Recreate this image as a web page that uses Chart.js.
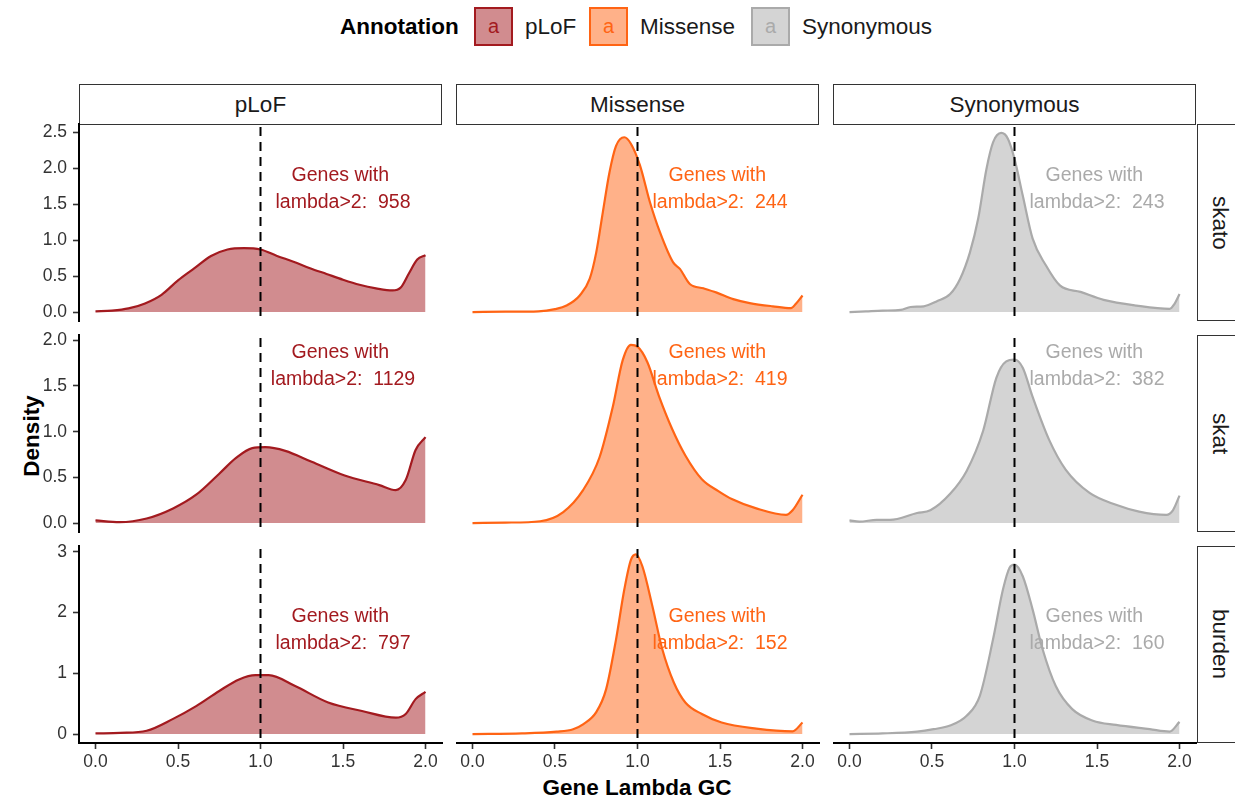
<!DOCTYPE html>
<html><head><meta charset="utf-8">
<script src="https://cdn.jsdelivr.net/npm/chart.js@4.4.1/dist/chart.umd.min.js"></script>
<style>
html,body{margin:0;padding:0;background:#fff;width:1235px;height:801px;overflow:hidden;font-family:"Liberation Sans",Arial,Helvetica,sans-serif;}
#root{position:relative;width:1235px;height:801px;overflow:hidden;}
.strip{position:absolute;box-sizing:border-box;border:1px solid #333;background:#fff;display:flex;align-items:center;justify-content:center;font-size:22.5px;color:#1a1a1a;}
.strip.v span{writing-mode:vertical-rl;}
canvas{position:absolute;}
.abs{position:absolute;white-space:nowrap;}
.key{position:absolute;box-sizing:border-box;border:2px solid;display:flex;align-items:center;justify-content:center;font-size:20px;}
</style>
</head><body><div id="root"></div>
<script>
// ---------- data ----------
const annotations = ['pLoF', 'Missense', 'Synonymous'];
const tests = ['skato', 'skat', 'burden'];
const lineColors = ['#A31A1F', '#FF6414', '#AAAAAA'];
const fillColors = ['rgba(163,26,31,0.5)', 'rgba(255,100,20,0.5)', 'rgba(170,170,170,0.5)'];

const countsSkato  = [958, 244, 243];
const countsSkat   = [1129, 419, 382];
const countsBurden = [797, 152, 160];

const xTickValues = [0, 0.5, 1, 1.5, 2];
const xTickLabels = ['0.0', '0.5', '1.0', '1.5', '2.0'];
const yTicksSkato  = ['0.0', '0.5', '1.0', '1.5', '2.0', '2.5'];
const yTicksSkat   = ['0.0', '0.5', '1.0', '1.5', '2.0'];
const yTicksBurden = ['0', '1', '2', '3'];
const rowMaxDensity = [2.49, 1.96, 2.95];

// pLoF
const pLoF_skato_x = [0,0.1,0.2,0.3,0.4,0.5,0.6,0.7,0.8,0.9,1.0,1.1,1.2,1.3,1.4,1.5,1.6,1.7,1.8,1.85,1.9,1.95,2.0];
const pLoF_skato_y = [0.01,0.02,0.05,0.12,0.24,0.44,0.61,0.78,0.87,0.89,0.87,0.78,0.70,0.61,0.53,0.45,0.38,0.33,0.30,0.34,0.54,0.73,0.79];
const pLoF_skat_x = [0,0.145,0.31,0.47,0.61,0.75,0.85,0.95,1.03,1.15,1.31,1.51,1.72,1.82,1.88,1.94,2.0];
const pLoF_skat_y = [0.03,0.01,0.05,0.16,0.31,0.54,0.71,0.82,0.83,0.79,0.67,0.52,0.415,0.36,0.47,0.80,0.94];
const pLoF_burden_x = [0,0.15,0.31,0.47,0.61,0.75,0.87,0.97,1.05,1.21,1.41,1.615,1.82,1.88,1.94,2.0];
const pLoF_burden_y = [0.01,0.02,0.055,0.25,0.46,0.71,0.90,0.97,0.97,0.79,0.52,0.38,0.27,0.33,0.575,0.695];
// Missense
const missense_skato_x = [0,0.2,0.4,0.5,0.57,0.65,0.71,0.75,0.79,0.83,0.87,0.92,0.96,1.015,1.075,1.136,1.216,1.257,1.317,1.40,1.48,1.58,1.68,1.82,1.93,1.96,2.0];
const missense_skato_y = [0,0.005,0.01,0.04,0.09,0.23,0.46,0.83,1.39,1.94,2.31,2.43,2.34,2.04,1.53,1.11,0.69,0.60,0.39,0.33,0.27,0.18,0.125,0.08,0.055,0.115,0.23];
const missense_skat_x = [0,0.2,0.41,0.55,0.67,0.77,0.85,0.91,0.96,1.0,1.06,1.13,1.21,1.29,1.39,1.49,1.575,1.72,1.90,1.94,2.0];
const missense_skat_y = [0,0.005,0.02,0.12,0.36,0.72,1.27,1.78,1.95,1.93,1.76,1.39,1.03,0.74,0.48,0.35,0.26,0.16,0.09,0.14,0.31];
const missense_burden_x = [0,0.3,0.51,0.61,0.67,0.75,0.81,0.87,0.92,0.96,0.99,1.03,1.09,1.15,1.22,1.29,1.39,1.51,1.72,1.94,2.0];
const missense_burden_y = [0,0.01,0.04,0.08,0.16,0.36,0.74,1.56,2.38,2.87,2.96,2.76,2.11,1.40,0.85,0.52,0.33,0.19,0.09,0.045,0.19];
// Synonymous
const synonymous_skato_x = [0,0.1,0.2,0.31,0.37,0.45,0.53,0.61,0.67,0.73,0.78,0.83,0.87,0.92,0.96,1.0,1.05,1.11,1.19,1.275,1.40,1.54,1.74,1.94,1.97,2.0];
const synonymous_skato_y = [0,0.01,0.02,0.03,0.07,0.08,0.15,0.25,0.46,0.83,1.30,1.99,2.36,2.49,2.41,2.13,1.62,1.02,0.65,0.37,0.28,0.17,0.09,0.045,0.115,0.25];
const synonymous_skat_x = [0,0.06,0.165,0.245,0.41,0.49,0.61,0.71,0.81,0.89,0.95,1.0,1.05,1.11,1.21,1.31,1.455,1.615,1.755,1.92,1.96,2.0];
const synonymous_skat_y = [0.03,0.015,0.035,0.035,0.11,0.14,0.32,0.57,1.01,1.59,1.77,1.79,1.70,1.38,0.91,0.585,0.33,0.20,0.125,0.09,0.14,0.30];
const synonymous_burden_x = [0,0.2,0.41,0.51,0.61,0.71,0.79,0.87,0.93,0.97,1.0,1.05,1.11,1.17,1.25,1.35,1.475,1.615,1.82,1.94,2.0];
const synonymous_burden_y = [0,0.01,0.04,0.08,0.14,0.30,0.63,1.56,2.38,2.74,2.79,2.60,2.05,1.40,0.79,0.41,0.22,0.15,0.08,0.04,0.20];

// ---------- assemble ----------
const counts = [countsSkato, countsSkat, countsBurden];
const yTickLabelsByRow = [yTicksSkato, yTicksSkat, yTicksBurden];
const seriesX = [
  [pLoF_skato_x, missense_skato_x, synonymous_skato_x],
  [pLoF_skat_x, missense_skat_x, synonymous_skat_x],
  [pLoF_burden_x, missense_burden_x, synonymous_burden_x]
];
const seriesY = [
  [pLoF_skato_y, missense_skato_y, synonymous_skato_y],
  [pLoF_skat_y, missense_skat_y, synonymous_skat_y],
  [pLoF_burden_y, missense_burden_y, synonymous_burden_y]
];

const FONT = "'Liberation Sans', Arial, Helvetica, sans-serif";
const colLeft = [79, 456, 833];
const rowTop = [124, 335, 546];
const PANEL_W = 363, PANEL_H = 197;
const PADT = 24, PADR = 14, PADB = 24, XAX_H = 34;
const root = document.getElementById('root');

function el(cls, css, html) {
  const d = document.createElement('div');
  d.className = cls;
  Object.assign(d.style, css);
  if (html !== undefined) d.innerHTML = html;
  root.appendChild(d);
  return d;
}

// strips
annotations.forEach((a, c) => {
  el('strip', {left: colLeft[c] + 'px', top: '84px', width: PANEL_W + 'px', height: '41px'}, '<span>' + a + '</span>');
});
tests.forEach((t, r) => {
  el('strip v', {left: '1197px', top: rowTop[r] + 'px', width: '46px', height: PANEL_H + 'px'}, '<span>' + t + '</span>');
});

// legend
el('abs', {left: '340px', top: '12px', fontSize: '22.5px', fontWeight: 'bold', color: '#000', lineHeight: '30px'}, 'Annotation');
const keyLeft = [474, 589, 751];
const labLeft = [525, 640, 802];
annotations.forEach((a, i) => {
  el('key', {left: keyLeft[i] + 'px', top: '7px', width: '39px', height: '39px', borderColor: lineColors[i], background: fillColors[i], color: lineColors[i]}, 'a');
  el('abs', {left: labLeft[i] + 'px', top: '12px', fontSize: '22.5px', color: '#1a1a1a', lineHeight: '30px'}, a);
});

// axis titles
el('abs', {left: '637px', top: '788px', transform: 'translate(-50%,-50%)', fontSize: '22.5px', fontWeight: 'bold', color: '#000'}, 'Gene Lambda GC');
el('abs', {left: '32px', top: '436px', transform: 'translate(-50%,-50%) rotate(-90deg)', fontSize: '22.5px', fontWeight: 'bold', color: '#000'}, 'Density');

const panelPlugin = {
  id: 'panel',
  afterDatasetsDraw(chart, args, opts) {
    const {ctx, chartArea, scales: {x, y}} = chart;
    ctx.save();
    const px = x.getPixelForValue(1);
    ctx.strokeStyle = '#000';
    ctx.lineWidth = 2;
    ctx.setLineDash([9, 6]);
    ctx.beginPath();
    ctx.moveTo(px, chartArea.top + 3);
    ctx.lineTo(px, chartArea.bottom);
    ctx.stroke();
    ctx.setLineDash([]);
    ctx.fillStyle = opts.color;
    ctx.font = '19.5px ' + FONT;
    ctx.textAlign = 'center';
    ctx.textBaseline = 'middle';
    const tx = x.getPixelForValue(1.5), ty = y.getPixelForValue(1.75);
    ctx.fillText('Genes with ', tx, ty - 10.8);
    ctx.fillText('lambda>2:  ' + opts.count, tx, ty + 16.2);
    ctx.restore();
  }
};

function makePanel(r, c) {
  const canvas = document.createElement('canvas');
  const showY = c === 0, showX = r === 2;
  const leftW = showY ? colLeft[0] : 0;
  const left = showY ? 0 : colLeft[c];
  const bottomH = showX ? XAX_H : 0;
  const w = leftW + PANEL_W + PADR;
  const h = PADT + PANEL_H + bottomH + PADB;
  canvas.width = w; canvas.height = h;
  canvas.style.left = left + 'px';
  canvas.style.top = (rowTop[r] - PADT) + 'px';
  canvas.style.width = w + 'px';
  canvas.style.height = h + 'px';
  root.appendChild(canvas);

  const xs = seriesX[r][c], ys = seriesY[r][c];
  const M = rowMaxDensity[r];
  const yLabels = yTickLabelsByRow[r];
  const tickFont = {family: FONT, size: 17.5};

  new Chart(canvas, {
    type: 'line',
    data: {
      datasets: [{
        data: xs.map((xv, i) => ({x: xv, y: ys[i]})),
        borderColor: lineColors[c],
        backgroundColor: fillColors[c],
        fill: 'origin',
        borderWidth: 2.2,
        pointRadius: 0,
        cubicInterpolationMode: 'monotone',
        tension: 0.4
      }]
    },
    options: {
      responsive: false,
      animation: false,
      devicePixelRatio: 1,
      events: [],
      layout: {padding: {top: PADT, right: PADR, bottom: PADB, left: 0}},
      plugins: {
        legend: {display: false},
        tooltip: {enabled: false},
        panel: {color: lineColors[c], count: counts[r][c]}
      },
      scales: {
        x: {
          type: 'linear', min: -0.1, max: 2.1,
          display: showX,
          afterBuildTicks: s => { s.ticks = xTickValues.map(v => ({value: v})); },
          afterFit: s => { s.height = showX ? XAX_H : 0; },
          ticks: {callback: (v, i) => xTickLabels[i], font: tickFont, color: '#333', padding: 3, maxRotation: 0, autoSkip: false, includeBounds: false},
          grid: {display: true, drawOnChartArea: false, drawTicks: true, tickLength: 6, tickColor: '#333', tickWidth: 1.6},
          border: {display: true, color: '#000', width: 2}
        },
        y: {
          type: 'linear', min: -0.05 * M, max: 1.05 * M,
          display: showY,
          afterBuildTicks: s => { s.ticks = yLabels.map(l => ({value: parseFloat(l)})); },
          afterFit: s => { s.width = leftW; },
          ticks: {callback: (v, i) => yLabels[i], font: tickFont, color: '#333', padding: 6, autoSkip: false, includeBounds: false},
          grid: {display: true, drawOnChartArea: false, drawTicks: true, tickLength: 6, tickColor: '#333', tickWidth: 1.6},
          border: {display: true, color: '#000', width: 2}
        }
      }
    },
    plugins: [panelPlugin]
  });
}

for (let r = 0; r < 3; r++) for (let c = 0; c < 3; c++) makePanel(r, c);
</script>
</body></html>
